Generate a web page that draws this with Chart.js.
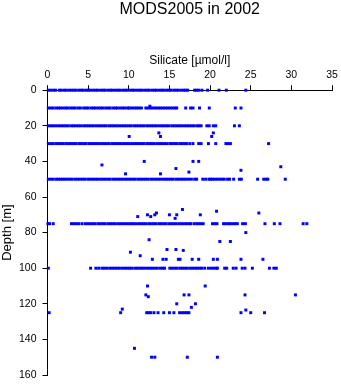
<!DOCTYPE html>
<html>
<head>
<meta charset="utf-8">
<script src="https://cdn.jsdelivr.net/npm/chart.js@4.4.1/dist/chart.umd.min.js"></script>
<style>
    html, body { margin: 0; padding: 0; background: #fff; }
</style>
</head>
<body>
<canvas id="profileChart" width="341" height="384"></canvas>
<script>
// standard sampling depths [m]
const depthLevels = [0, 10, 20, 30, 50, 75, 100, 125];

// silicate [umol/l] measured at each standard depth
const si0 = [0.1, 0.4, 0.75, 1.0, 1.45, 1.7, 2.05, 2.3, 2.65, 2.95, 3.25, 3.5, 3.85, 4.15, 4.4, 4.75, 5.05, 5.3, 5.65, 5.95, 6.2, 6.55, 6.85, 7.1, 7.45, 7.75, 8.0, 8.35, 8.65, 8.9, 9.25, 9.55, 9.8, 10.15, 10.45, 10.7, 11.05, 11.35, 11.6, 11.95, 12.25, 12.5, 12.85, 13.15, 13.4, 13.75, 14.05, 14.3, 14.65, 14.95, 15.2, 15.55, 15.85, 16.1, 16.45, 16.75, 17.0, 17.25, 18.1, 18.35, 18.6, 19.0, 19.7, 21.1, 22.0, 24.4];
const si10 = [0.1, 0.4, 0.7, 1.05, 1.35, 1.6, 1.95, 2.25, 2.5, 2.85, 3.15, 3.4, 3.75, 4.05, 4.45, 4.75, 5.0, 5.35, 5.65, 5.9, 6.25, 6.55, 6.8, 7.15, 7.45, 7.7, 8.05, 8.35, 8.6, 8.95, 9.25, 9.5, 9.85, 10.05, 10.35, 10.65, 10.95, 11.25, 11.55, 12.1, 12.4, 12.7, 13.0, 13.3, 13.6, 13.9, 14.2, 14.5, 14.8, 15.1, 15.4, 15.7, 15.9, 17.0, 17.6, 17.9, 18.7, 19.9, 23.1, 23.8];
const si20 = [0.1, 0.4, 0.7, 1.0, 1.35, 1.65, 1.95, 2.25, 2.55, 2.9, 3.2, 3.5, 3.8, 4.1, 4.45, 4.75, 5.05, 5.35, 5.65, 6.0, 6.3, 6.6, 6.9, 7.2, 7.55, 7.85, 8.15, 8.45, 8.75, 9.1, 9.4, 9.7, 10.0, 10.3, 10.65, 10.95, 11.25, 11.55, 11.85, 12.2, 12.5, 12.8, 13.1, 13.4, 13.75, 14.05, 14.35, 14.65, 14.95, 15.3, 15.6, 15.9, 16.2, 16.5, 16.85, 17.15, 17.45, 17.75, 18.05, 18.4, 18.65, 18.9, 19.6, 19.9, 20.4, 20.7, 23.0, 23.6];
const si30 = [0.1, 0.4, 0.7, 1.05, 1.35, 1.65, 1.95, 2.3, 2.6, 2.9, 3.2, 3.5, 3.85, 4.15, 4.45, 4.75, 5.1, 5.4, 5.7, 6.0, 6.3, 6.65, 6.95, 7.25, 7.55, 7.9, 8.2, 8.5, 8.8, 9.1, 9.45, 9.75, 10.05, 10.35, 10.7, 11.0, 11.3, 11.6, 11.9, 12.25, 12.55, 12.85, 13.15, 13.5, 13.8, 14.1, 14.4, 14.7, 15.05, 15.35, 15.65, 15.95, 16.3, 16.6, 16.9, 17.1, 17.5, 17.9, 18.6, 18.9, 19.8, 20.7, 21.95, 22.2, 22.5, 27.2];
const si50 = [0.1, 0.4, 0.7, 1.05, 1.3, 1.6, 1.9, 2.15, 2.45, 2.75, 3.05, 3.4, 3.7, 4.0, 4.3, 4.6, 4.95, 5.25, 5.55, 5.85, 6.15, 6.5, 6.8, 7.1, 7.4, 7.7, 8.05, 8.35, 8.65, 8.95, 9.25, 9.6, 9.9, 10.2, 10.5, 10.8, 11.15, 11.45, 11.75, 12.05, 12.35, 12.7, 13.0, 13.3, 13.6, 13.9, 14.25, 14.55, 14.85, 15.15, 15.45, 15.8, 16.1, 16.4, 16.7, 17.0, 17.35, 17.7, 18.1, 18.35, 19.1, 19.45, 19.85, 20.05, 20.3, 20.6, 20.9, 21.2, 21.5, 21.75, 22.15, 22.4, 22.9, 23.6, 23.85, 25.85, 26.6, 26.9, 27.1, 29.25];
const si75 = [0.05, 0.25, 0.7, 2.95, 3.25, 3.55, 3.85, 4.25, 4.65, 4.95, 5.25, 5.55, 5.85, 6.2, 6.5, 6.8, 7.1, 7.45, 7.75, 8.05, 8.35, 8.7, 9.0, 9.3, 9.6, 9.95, 10.25, 10.55, 10.85, 11.2, 11.5, 11.8, 12.1, 12.45, 12.75, 13.05, 13.35, 13.7, 14.0, 14.3, 14.6, 14.95, 15.25, 15.55, 15.85, 16.2, 16.5, 16.8, 17.1, 17.45, 17.65, 18.05, 18.35, 18.6, 18.9, 19.15, 20.3, 20.6, 20.85, 21.65, 21.95, 22.25, 22.5, 22.8, 23.1, 23.35, 24.0, 24.35, 26.75, 27.9, 28.6, 31.45, 31.9];
const si100 = [0.1, 5.3, 5.95, 6.3, 6.7, 7.0, 7.3, 7.65, 7.95, 8.25, 8.55, 8.85, 9.2, 9.5, 9.8, 10.1, 10.4, 10.75, 11.05, 11.35, 11.65, 11.95, 12.3, 12.6, 12.9, 13.2, 13.5, 13.85, 14.15, 14.4, 15.05, 15.35, 15.65, 15.95, 16.3, 16.6, 16.9, 17.2, 17.55, 17.85, 18.15, 18.45, 18.75, 19.0, 19.35, 19.8, 20.15, 20.45, 20.75, 20.9, 21.8, 22.05, 22.85, 23.2, 23.95, 24.3, 25.2, 27.3, 27.85, 28.15];
const si125 = [0.2, 9.0, 12.2, 12.45, 12.7, 13.1, 13.6, 14.3, 15.0, 15.55, 16.25, 16.6, 16.9, 17.15, 17.4, 23.8, 25.0, 26.7];

// samples taken away from the standard depths
const looseSi =    [12.6, 10.05, 13.7, 13.9, 20.4, 20.2, 6.7, 9.6, 11.9, 13.9, 15.8, 17.9, 18.6, 17.4, 23.8, 28.7, 16.6, 15.9, 15.0, 15.7, 18.8, 20.8, 26.0, 11.1, 12.3, 12.7, 13.2, 13.4, 24.4, 12.5, 10.2, 11.4, 12.9, 14.2, 14.6, 14.7, 15.8, 16.1, 21.2, 22.5, 16.7, 16.3, 17.8, 18.6, 20.4, 20.9, 23.8, 26.5, 12.3, 12.1, 12.4, 9.2, 15.9, 19.4, 16.8, 17.4, 24.3, 30.5, 18.2, 17.7, 24.4, 10.7, 12.8, 13.2, 17.2, 20.9];
const looseDepth = [9, 26, 24, 26, 24, 26, 42, 47, 40, 47, 44, 40, 40, 46, 45, 43, 67, 70, 70, 72, 70, 68, 69, 71, 70, 71, 70, 69, 80, 84, 91, 93, 95, 95, 95, 89.5, 89.5, 95, 85, 85, 90, 95, 95, 95, 95, 95, 95, 95, 110, 115, 116, 123, 120, 110, 115, 115, 115, 115, 120, 122, 123.5, 145, 150, 150, 150, 150];

const levelValues = [si0, si10, si20, si30, si50, si75, si100, si125];

const points = [];
levelValues.forEach((vals, i) => {
    vals.forEach(v => points.push({ x: v, y: depthLevels[i] }));
});
looseSi.forEach((v, i) => points.push({ x: v, y: looseDepth[i] }));

const fontFamily = "'Liberation Sans', Arial, sans-serif";

const ctx = document.getElementById('profileChart').getContext('2d');
new Chart(ctx, {
    type: 'scatter',
    data: {
        datasets: [{
            data: points,
            pointStyle: 'rect',
            pointRadius: 2.1,
            pointHoverRadius: 2.1,
            backgroundColor: '#0000ff',
            borderWidth: 0,
            clip: false
        }]
    },
    options: {
        responsive: false,
        animation: false,
        layout: {
            padding: { left: 0, right: 9, top: 0, bottom: 9 }
        },
        plugins: {
            legend: { display: false },
            tooltip: { enabled: false },
            title: {
                display: true,
                text: 'MODS2005 in 2002',
                fullSize: false,
                color: '#000',
                font: { family: fontFamily, size: 16, weight: 'normal' },
                padding: { top: 0, bottom: 6 }
            }
        },
        scales: {
            x: {
                type: 'linear',
                position: 'top',
                min: 0,
                max: 35,
                afterFit: scale => {
                    scale.height = 65;
                    scale.paddingLeft = 0;
                    scale.paddingRight = 0;
                },
                ticks: {
                    stepSize: 5,
                    color: '#000',
                    padding: 4,
                    maxRotation: 0,
                    font: { family: fontFamily, size: 10.5 }
                },
                grid: {
                    drawOnChartArea: false,
                    drawTicks: true,
                    tickLength: 5,
                    color: '#000'
                },
                border: { display: true, color: '#000', width: 1 },
                title: {
                    display: true,
                    text: 'Silicate [\u00b5mol/l]',
                    color: '#000',
                    font: { family: fontFamily, size: 12 },
                    padding: { top: 28, bottom: 0 }
                }
            },
            y: {
                type: 'linear',
                reverse: true,
                min: 0,
                max: 160,
                afterFit: scale => {
                    scale.width = 47.5;
                    scale.paddingTop = 0;
                    scale.paddingBottom = 0;
                },
                ticks: {
                    stepSize: 20,
                    color: '#000',
                    padding: 6,
                    font: { family: fontFamily, size: 10.5 }
                },
                grid: {
                    drawOnChartArea: false,
                    drawTicks: true,
                    tickLength: 5,
                    color: '#000'
                },
                border: { display: true, color: '#000', width: 1 },
                title: {
                    display: true,
                    text: 'Depth [m]',
                    color: '#000',
                    font: { family: fontFamily, size: 13 },
                    padding: { top: 0, bottom: 0 }
                }
            }
        }
    }
});
</script>
</body>
</html>
